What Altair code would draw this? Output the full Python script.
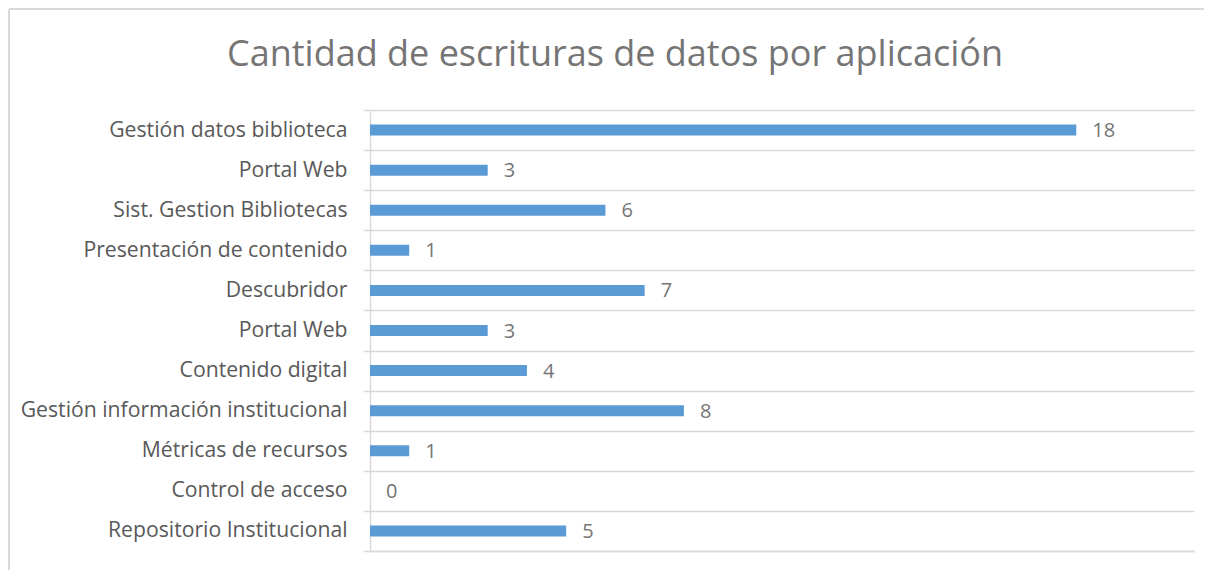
import altair as alt
import pandas as pd

categories = [
    "Gestión datos biblioteca",
    "Portal Web",
    "Sist. Gestion Bibliotecas",
    "Presentación de contenido",
    "Descubridor",
    "Portal Web",
    "Contenido digital",
    "Gestión información institucional",
    "Métricas de recursos",
    "Control de acceso",
    "Repositorio Institucional",
]
values = [18, 3, 6, 1, 7, 3, 4, 8, 1, 0, 5]
title_text = "Cantidad de escrituras de datos por aplicación"

df = pd.DataFrame({
    "key": [f"{i:02d}" for i in range(len(categories))],
    "name": categories,
    "value": values,
})

label_expr = "[" + ",".join('"' + c + '"' for c in categories) + "][toNumber(datum.value)]"
FONT = "Open Sans"
GRID = "#d9d9d9"

y_enc = alt.Y(
    "key:N",
    sort=None,
    scale=alt.Scale(paddingInner=0, paddingOuter=0),
    axis=alt.Axis(
        title=None,
        labelExpr=label_expr,
        labelFont=FONT,
        labelFontSize=21.2,
        labelColor="#595959",
        labelPadding=16,
        labelLimit=400,
        tickSize=7,
        tickColor=GRID,
        tickBand="extent",
        grid=True,
        gridColor=GRID,
        gridWidth=1.5,
        domainColor=GRID,
        domainWidth=1.5,
        tickWidth=1.5,
    ),
)
x_enc = alt.X(
    "value:Q",
    scale=alt.Scale(domain=[0, 21], nice=False),
    axis=alt.Axis(
        title=None, labels=False, ticks=False, grid=False,
        domain=True, domainColor=GRID, domainWidth=1.5,
    ),
)

base = alt.Chart(df)
bars = base.mark_bar(color="#5b9bd5", size=11).encode(x=x_enc, y=y_enc)
labels = base.mark_text(
    align="left", baseline="middle", dx=16, dy=1,
    font=FONT, fontSize=20, color="#757575",
).encode(x="value:Q", y=alt.Y("key:N", sort=None), text="value:Q")

border_top = alt.Chart(df.head(1)).mark_rule(color=GRID, strokeWidth=2).encode(
    x=alt.value(-361), x2=alt.value(834), y=alt.value(-101)
)
border_left = alt.Chart(df.head(1)).mark_rule(color=GRID, strokeWidth=2).encode(
    x=alt.value(-361), y=alt.value(-101), y2=alt.value(460)
)

chart = (
    alt.layer(bars, labels, border_top, border_left)
    .properties(
        width=824,
        height=441,
        padding=0,
        title=alt.Title(
            title_text, font=FONT, fontSize=36, fontWeight="normal",
            color="#757575", anchor="middle", frame="group",
            baseline="alphabetic", offset=-94, dx=-167,
        ),
    )
    .configure_view(stroke=None)
)

chart.save("out.html", embed_options={"renderer": "svg", "actions": False})
